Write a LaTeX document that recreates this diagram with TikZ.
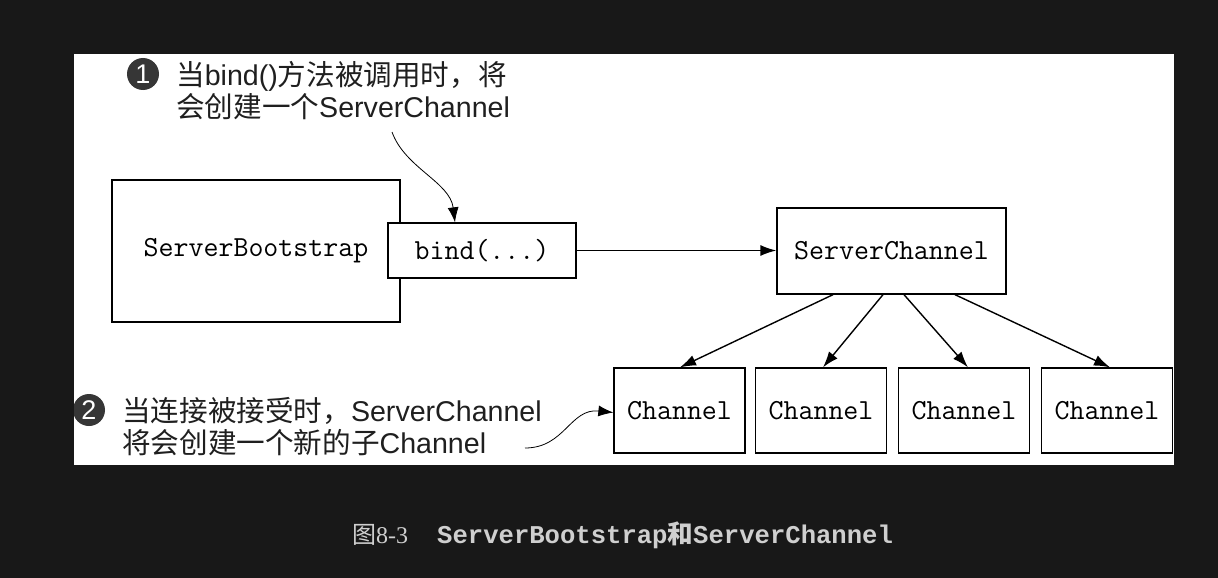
\documentclass[tikz,border=0pt]{standalone}
\usepackage{fontspec}
\setmainfont{Liberation Sans}
\newfontfamily\cjk{Noto Sans CJK SC}
\newfontfamily\capserif{Liberation Serif}
\newfontfamily\capmono{Liberation Mono}
\usetikzlibrary{arrows.meta}
\definecolor{bgdark}{HTML}{181818}
\definecolor{capgray}{HTML}{CFCFCF}
\definecolor{numgray}{HTML}{363636}
\tikzset{
  caixa/.style={draw, line width=1.3pt, fill=white, inner sep=0pt,
    font=\fontsize{29.1}{32}\selectfont\ttfamily},
  fletxa/.style={line width=1.4pt, -{Latex[length=16pt,width=11pt]}},
  corba/.style={line width=0.8pt, -{Latex[length=15pt,width=11pt]}},
  nota/.style={anchor=west, align=left, inner sep=0pt, text=black!88,
    font=\fontsize{28.6}{32}\selectfont},
  num/.style={circle, fill=numgray, text=white, minimum size=32pt, inner sep=0pt,
    font=\fontsize{27}{27}\selectfont}
}

\begin{document}
\begin{tikzpicture}[x=1pt, y=-1pt]
    \useasboundingbox (0,0) rectangle (1218,578);
    \fill[bgdark] (0,0) rectangle (1218,578);
    \fill[white] (74,54) rectangle (1174,465);

    % Caixes principals
    \node[caixa, minimum width=288pt, minimum height=142pt] (sb) at (256,251) {ServerBootstrap};
    \node[caixa, minimum width=188pt, minimum height=55pt] (bind) at (482,250.5) {bind(...)};
    \node[caixa, minimum width=229pt, minimum height=86pt] (sc) at (891.5,251) {ServerChannel};

    % Channels fills
    \foreach \i/\x in {1/679.5, 2/821, 3/964, 4/1107}
        \node[caixa, minimum width=131pt, minimum height=85pt] (ch\i) at (\x,410.5) {Channel};

    % Fletxes
    \draw[fletxa] (bind.east) -- (bind.east -| sc.west);
    \draw[fletxa] ([xshift=-58.5pt]sc.south) -- ([xshift=0.5pt]ch1.north);
    \draw[fletxa] ([xshift=-8.5pt]sc.south) -- ([xshift=2pt]ch2.north);
    \draw[fletxa] ([xshift=12.5pt]sc.south) -- ([xshift=4pt]ch3.north);
    \draw[fletxa] ([xshift=63.5pt]sc.south) -- ([xshift=3pt]ch4.north);

    % Notes
    \node[num] (n1) at (143,74) {1};
    \node[nota] (nota1) at (176,91) {{\cjk 当}bind(){\cjk 方法被调用时，将}\\{\cjk 会创建一个}ServerChannel};
    \begin{scope}
        \clip (74,54) rectangle (1174,465);
        \node[num] (n2) at (89,410) {2};
    \end{scope}
    \node[nota] (nota2) at (122,427) {{\cjk 当连接被接受时，}ServerChannel\\{\cjk 将会创建一个新的子}Channel};

    % Corbes de les notes
    \coordinate (c1) at (392,132);
    \coordinate (c2) at (525,448);
    \draw[corba] (c1) .. controls (405,168) and (450,182) .. ([xshift=-27pt]bind.north);
    \draw[corba] (c2) .. controls (565,448) and (570,408) .. ([yshift=-2pt]ch1.west);

    % Peu de figura
    \node[anchor=west, inner sep=0pt, text=capgray, font=\fontsize{24}{26}\selectfont] (cap1) at (352,535) {{\cjk 图}{\capserif 8-3}};
    \node[anchor=west, inner sep=0pt, text=capgray, font=\fontsize{25.6}{28}\selectfont\capmono\bfseries] (cap2) at (437,535) {ServerBootstrap{\cjk 和}ServerChannel};
\end{tikzpicture}
\end{document}
